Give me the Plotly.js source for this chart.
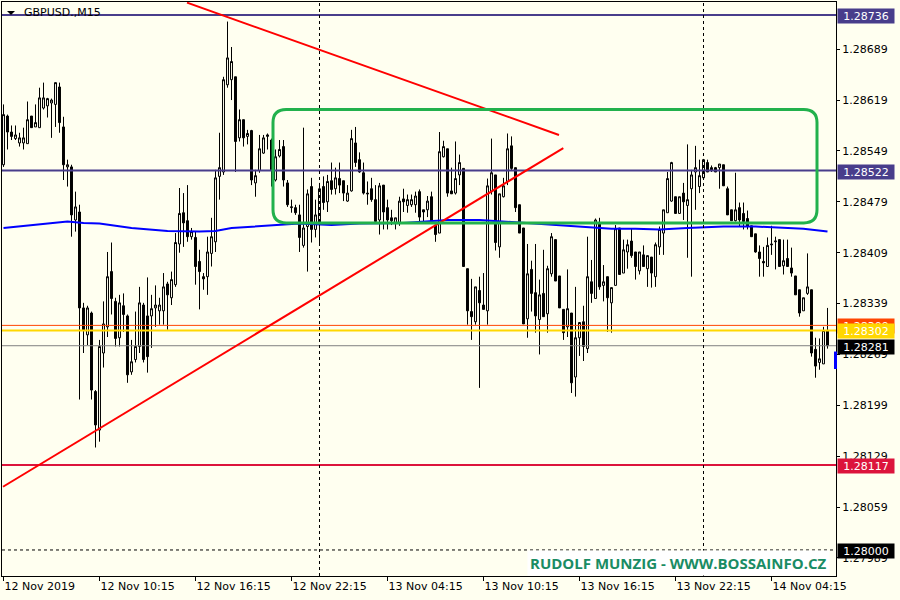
<!DOCTYPE html>
<html><head><meta charset="utf-8">
<script src="https://cdn.plot.ly/plotly-3.0.1.min.js"></script>
<style>html,body{margin:0;padding:0;background:#fffff0;} #chart{width:900px;height:600px;}</style>
</head><body><div id="chart"></div>
<script>
// ---- data: GBPUSD M15 candles (bar 0 = 12 Nov 2019 04:15) ----
const open = [1.28530,1.28597,1.28575,1.28566,1.28560,1.28560,1.28559,1.28597,1.28582,1.28581,
1.28608,1.28611,1.28615,1.28613,1.28637,1.28582,1.28527,1.28527,1.28454,1.28465,
1.28333,1.28296,1.28326,1.28218,1.28165,1.28271,1.28307,1.28383,1.28342,1.28292,
1.28336,1.28322,1.28245,1.28262,1.28280,1.28337,1.28322,1.28322,1.28333,1.28329,
1.28329,1.28366,1.28347,1.28365,1.28421,1.28464,1.28453,1.28431,1.28430,1.28397,
1.28376,1.28376,1.28408,1.28424,1.28514,1.28520,1.28640,1.28647,1.28651,1.28567,
1.28592,1.28569,1.28577,1.28505,1.28522,1.28546,1.28569,1.28564,1.28509,1.28542,
1.28555,1.28505,1.28471,1.28471,1.28461,1.28419,1.28445,1.28500,1.28441,1.28450,
1.28500,1.28479,1.28508,1.28497,1.28511,1.28508,1.28480,1.28494,1.28560,1.28537,
1.28519,1.28491,1.28497,1.28482,1.28454,1.28502,1.28471,1.28457,1.28450,1.28450,
1.28483,1.28474,1.28475,1.28475,1.28493,1.28468,1.28468,1.28486,1.28447,1.28436,
1.28541,1.28552,1.28494,1.28491,1.28516,1.28525,1.28387,1.28328,1.28314,1.28357,
1.28337,1.28329,1.28493,1.28516,1.28417,1.28486,1.28507,1.28556,1.28526,1.28475,
1.28443,1.28318,1.28386,1.28354,1.28317,1.28353,1.28325,1.28380,1.28427,1.28377,
1.28331,1.28307,1.28326,1.28238,1.28292,1.28314,1.28277,1.28369,1.28346,1.28450,
1.28364,1.28376,1.28340,1.28364,1.28443,1.28381,1.28410,1.28425,1.28410,1.28384,
1.28406,1.28387,1.28403,1.28376,1.28417,1.28436,1.28464,1.28480,1.28486,1.28463,
1.28491,1.28474,1.28497,1.28520,1.28500,1.28512,1.28533,1.28526,1.28526,1.28526,
1.28530,1.28497,1.28468,1.28453,1.28471,1.28463,1.28456,1.28446,1.28435,1.28410,
1.28397,1.28390,1.28421,1.28424,1.28427,1.28391,1.28401,1.28388,1.28377,1.28358,
1.28329,1.28353,1.28358,1.28276,1.28258,1.28256,1.28302];
const high = [1.28613,1.28599,1.28584,1.28584,1.28574,1.28581,1.28617,1.28597,1.28613,1.28636,
1.28643,1.28622,1.28621,1.28643,1.28643,1.28596,1.28537,1.28530,1.28493,1.28475,
1.28340,1.28336,1.28328,1.28220,1.28289,1.28342,1.28410,1.28423,1.28347,1.28351,
1.28353,1.28324,1.28289,1.28328,1.28362,1.28340,1.28375,1.28351,1.28364,1.28347,
1.28381,1.28369,1.28383,1.28436,1.28498,1.28491,1.28502,1.28443,1.28438,1.28413,
1.28381,1.28431,1.28457,1.28523,1.28574,1.28651,1.28727,1.28692,1.28651,1.28606,
1.28592,1.28578,1.28578,1.28523,1.28571,1.28571,1.28573,1.28566,1.28551,1.28564,
1.28564,1.28509,1.28482,1.28475,1.28475,1.28581,1.28496,1.28512,1.28482,1.28505,
1.28514,1.28516,1.28533,1.28526,1.28533,1.28508,1.28502,1.28578,1.28582,1.28547,
1.28533,1.28507,1.28512,1.28502,1.28505,1.28502,1.28482,1.28468,1.28457,1.28486,
1.28497,1.28489,1.28489,1.28493,1.28496,1.28468,1.28487,1.28493,1.28447,1.28575,
1.28563,1.28552,1.28526,1.28562,1.28544,1.28525,1.28387,1.28373,1.28362,1.28376,
1.28381,1.28511,1.28566,1.28516,1.28490,1.28512,1.28573,1.28569,1.28526,1.28475,
1.28443,1.28421,1.28398,1.28421,1.28372,1.28413,1.28391,1.28436,1.28427,1.28377,
1.28331,1.28386,1.28326,1.28362,1.28313,1.28336,1.28431,1.28399,1.28456,1.28457,
1.28392,1.28376,1.28361,1.28447,1.28443,1.28427,1.28427,1.28442,1.28410,1.28410,
1.28419,1.28405,1.28403,1.28423,1.28445,1.28468,1.28520,1.28534,1.28486,1.28486,
1.28505,1.28558,1.28523,1.28556,1.28537,1.28538,1.28537,1.28529,1.28527,1.28531,
1.28530,1.28500,1.28468,1.28519,1.28478,1.28478,1.28467,1.28446,1.28435,1.28419,
1.28417,1.28430,1.28446,1.28431,1.28427,1.28427,1.28427,1.28416,1.28377,1.28358,
1.28347,1.28408,1.28358,1.28292,1.28291,1.28307,1.28333];
const low = [1.28527,1.28551,1.28564,1.28564,1.28555,1.28551,1.28559,1.28581,1.28582,1.28581,
1.28606,1.28595,1.28567,1.28582,1.28574,1.28509,1.28500,1.28431,1.28438,1.28207,
1.28271,1.28282,1.28207,1.28141,1.28149,1.28251,1.28293,1.28324,1.28280,1.28280,
1.28300,1.28230,1.28241,1.28258,1.28271,1.28258,1.28244,1.28278,1.28307,1.28310,
1.28310,1.28303,1.28337,1.28362,1.28409,1.28417,1.28424,1.28427,1.28365,1.28331,
1.28358,1.28351,1.28390,1.28410,1.28482,1.28516,1.28636,1.28619,1.28520,1.28562,
1.28555,1.28558,1.28502,1.28486,1.28519,1.28545,1.28551,1.28500,1.28507,1.28540,
1.28500,1.28472,1.28464,1.28461,1.28410,1.28416,1.28383,1.28423,1.28430,1.28420,
1.28468,1.28465,1.28489,1.28489,1.28491,1.28480,1.28479,1.28493,1.28527,1.28519,
1.28489,1.28475,1.28479,1.28452,1.28434,1.28441,1.28441,1.28447,1.28441,1.28446,
1.28465,1.28464,1.28472,1.28464,1.28452,1.28452,1.28458,1.28452,1.28424,1.28436,
1.28540,1.28486,1.28490,1.28489,1.28502,1.28390,1.28310,1.28289,1.28310,1.28223,
1.28331,1.28310,1.28489,1.28412,1.28402,1.28485,1.28502,1.28523,1.28465,1.28436,
1.28311,1.28292,1.28328,1.28299,1.28269,1.28321,1.28299,1.28376,1.28370,1.28333,
1.28289,1.28293,1.28216,1.28211,1.28267,1.28260,1.28271,1.28340,1.28346,1.28358,
1.28342,1.28300,1.28299,1.28364,1.28379,1.28381,1.28387,1.28402,1.28372,1.28379,
1.28390,1.28362,1.28361,1.28362,1.28406,1.28406,1.28464,1.28479,1.28463,1.28463,
1.28454,1.28402,1.28376,1.28468,1.28491,1.28512,1.28520,1.28520,1.28520,1.28497,
1.28501,1.28461,1.28453,1.28452,1.28445,1.28441,1.28441,1.28431,1.28409,1.28376,
1.28376,1.28390,1.28406,1.28386,1.28390,1.28379,1.28390,1.28376,1.28351,1.28321,
1.28329,1.28351,1.28266,1.28237,1.28248,1.28256,1.28277];
const close = [1.28599,1.28575,1.28569,1.28571,1.28567,1.28567,1.28592,1.28581,1.28588,1.28622,
1.28622,1.28621,1.28619,1.28643,1.28588,1.28530,1.28530,1.28461,1.28472,1.28333,
1.28303,1.28333,1.28220,1.28172,1.28280,1.28311,1.28376,1.28346,1.28291,1.28340,
1.28324,1.28241,1.28259,1.28280,1.28340,1.28262,1.28266,1.28332,1.28337,1.28337,
1.28362,1.28351,1.28372,1.28423,1.28463,1.28450,1.28431,1.28438,1.28390,1.28383,
1.28373,1.28410,1.28431,1.28512,1.28526,1.28647,1.28677,1.28672,1.28562,1.28592,
1.28567,1.28573,1.28509,1.28515,1.28552,1.28567,1.28571,1.28523,1.28541,1.28551,
1.28509,1.28475,1.28472,1.28464,1.28430,1.28443,1.28490,1.28441,1.28461,1.28497,
1.28478,1.28507,1.28496,1.28512,1.28502,1.28491,1.28491,1.28566,1.28533,1.28520,
1.28491,1.28490,1.28482,1.28452,1.28501,1.28465,1.28454,1.28453,1.28457,1.28480,
1.28479,1.28482,1.28482,1.28487,1.28458,1.28465,1.28480,1.28452,1.28434,1.28548,
1.28555,1.28491,1.28490,1.28511,1.28533,1.28390,1.28329,1.28321,1.28362,1.28340,
1.28331,1.28501,1.28519,1.28423,1.28490,1.28501,1.28552,1.28525,1.28471,1.28436,
1.28311,1.28380,1.28353,1.28322,1.28351,1.28321,1.28387,1.28431,1.28370,1.28333,
1.28299,1.28332,1.28230,1.28292,1.28313,1.28280,1.28376,1.28353,1.28454,1.28362,
1.28369,1.28347,1.28361,1.28442,1.28379,1.28413,1.28420,1.28405,1.28390,1.28410,
1.28390,1.28405,1.28381,1.28420,1.28441,1.28468,1.28511,1.28533,1.28463,1.28486,
1.28479,1.28482,1.28516,1.28526,1.28515,1.28537,1.28520,1.28522,1.28520,1.28531,
1.28501,1.28461,1.28453,1.28468,1.28454,1.28452,1.28445,1.28431,1.28410,1.28401,
1.28395,1.28419,1.28420,1.28425,1.28390,1.28398,1.28390,1.28381,1.28351,1.28326,
1.28347,1.28362,1.28271,1.28253,1.28263,1.28302,1.28281];

// moving average (blue), sampled at bar indices
const maBar = [0,16,20,24,32,41,49,53,57,66,74,82,89,100,111,119,130,139,146,152,158,164,171,180,188,194,200,206];
const maVal = [1.28443,1.28452,1.28450,1.28449,1.28443,1.28439,1.28438,1.28439,1.28443,1.28446,1.28449,1.28447,1.28449,1.28450,1.28454,1.28454,1.28450,1.28447,1.28445,1.28442,1.28442,1.28441,1.28443,1.28445,1.28445,1.28443,1.28442,1.28438];

// x-axis labels
const xTickBars = [0,24,48,72,96,120,144,168,192];
const xTickText = ["12 Nov 2019","12 Nov 10:15","12 Nov 16:15","12 Nov 22:15","13 Nov 04:15","13 Nov 10:15","13 Nov 16:15","13 Nov 22:15","14 Nov 04:15"];
// y-axis labels
const yTicks = [1.27989,1.28059,1.28129,1.28199,1.28269,1.28339,1.28409,1.28479,1.28549,1.28619,1.28689];

// horizontal price levels
const levelPrice = [1.28736,1.28522,1.28309,1.28302,1.28281,1.28117,1.28000];
const levelColor = ["#483d8b","#483d8b","#ff4500","#ffd700","#808080","#dc143c","#000000"];
const levelWidth = [2,2,1,2,1,2,1];
const levelDash  = ["solid","solid","solid","solid","solid","solid","3px,3px"];
const levelLabelBg = ["#483d8b","#483d8b","#ff4500","#ffd700","#000000","#dc143c","#000000"];

// day separators (bar index of 00:00)
const daySepBars = [79,175];
// trend lines [bar, price]
const trendDown = {bars:[45.875,138.875], prices:[1.28753,1.28571]};
const trendUp   = {bars:[-0.125,139.95], prices:[1.28087,1.28553]};
// green consolidation box
const boxBars = [67.375,203.375];
const boxPrices = [1.28450,1.28606];
// blue price marker
const markerPrices = [1.28249,1.28273];

const bars = open.map((v,i)=>i);
const fmt = v => v.toFixed(5);

const traces = [
  {type:'candlestick', x:bars, open:open, high:high, low:low, close:close,
   increasing:{line:{color:'#000000',width:1}, fillcolor:'#fffff0'},
   decreasing:{line:{color:'#000000',width:1}, fillcolor:'#000000'},
   whiskerwidth:0, hoverinfo:'skip', showlegend:false},
  {type:'scatter', mode:'lines', x:maBar, y:maVal, line:{color:'#0000ff',width:2}, hoverinfo:'skip', showlegend:false}
];

const shapes = [];
levelPrice.forEach((p,k)=>{
  shapes.push({type:'line', xref:'paper', x0:0, x1:1, yref:'y', y0:p, y1:p,
    line:{color:levelColor[k], width:levelWidth[k], dash:levelDash[k]}});
});
daySepBars.forEach(b=>{
  shapes.push({type:'line', xref:'x', x0:b, x1:b, yref:'paper', y0:0, y1:1,
    line:{color:'#000000', width:1, dash:'3px,3px'}});
});
[trendDown, trendUp].forEach(t=>{
  shapes.push({type:'line', xref:'x', yref:'y', x0:t.bars[0], x1:t.bars[1], y0:t.prices[0], y1:t.prices[1],
    line:{color:'#ff0000', width:2}});
});
(function(){
  const x0=boxBars[0], x1=boxBars[1], y0=boxPrices[0], y1=boxPrices[1];
  const rx=3.3, ry=0.00018;
  const path = `M ${x0+rx},${y1} L ${x1-rx},${y1} Q ${x1},${y1} ${x1},${y1-ry} L ${x1},${y0+ry} Q ${x1},${y0} ${x1-rx},${y0} L ${x0+rx},${y0} Q ${x0},${y0} ${x0},${y0+ry} L ${x0},${y1-ry} Q ${x0},${y1} ${x0+rx},${y1} Z`;
  shapes.push({type:'path', xref:'x', yref:'y', path:path, line:{color:'#22b14c', width:3}, fillcolor:'rgba(0,0,0,0)'});
})();
shapes.push({type:'rect', xref:'paper', x0:0.9976, x1:1.0012, yref:'y', y0:markerPrices[0], y1:markerPrices[1],
  line:{width:0}, fillcolor:'#0000ff'});
shapes.push({type:'path', xref:'paper', yref:'paper', path:'M 0.006,0.9843 L 0.0156,0.9843 L 0.0108,0.9774 Z',
  line:{width:0}, fillcolor:'#000000'});

const annotations = [];
levelPrice.forEach((p,k)=>{
  annotations.push({xref:'paper', x:1, xanchor:'left', xshift:1, yref:'y', y:p, yanchor:'middle', yshift:-1,
    text:fmt(p), showarrow:false, bgcolor:levelLabelBg[k], borderpad:1, width:54, height:12, align:'center',
    font:{family:'DejaVu Sans', size:11, color:'#ffffff'}});
});
annotations.push({xref:'paper', yref:'paper', x:0.024, y:0.981, xanchor:'left', yanchor:'middle',
  text:'GBPUSD.,M15', showarrow:false, font:{family:'DejaVu Sans', size:11, color:'#000000'}});
annotations.push({xref:'paper', yref:'paper', x:0.9928, y:0.0235, xanchor:'right', yanchor:'middle',
  text:'<b>RUDOLF MUNZIG - WWW.BOSSAINFO.CZ</b>', showarrow:false, bgcolor:'#ffffff', borderpad:2,
  font:{family:'Open Sans', size:15, color:'#1a8c64'}});

const layout = {
  width:900, height:600,
  margin:{l:2, r:64, t:2, b:24, pad:0},
  paper_bgcolor:'#fffff0', plot_bgcolor:'#fffff0',
  showlegend:false, boxgap:0.3, hovermode:false,
  xaxis:{range:[-0.375,208.125], showgrid:false, zeroline:false, showline:true, mirror:true,
    linecolor:'#000000', linewidth:1, ticks:'outside', ticklen:4, tickcolor:'#000000',
    tickvals:xTickBars, ticktext:xTickText, ticklabelposition:'outside right',
    tickfont:{family:'DejaVu Sans', size:11, color:'#000000'}, rangeslider:{visible:false}, fixedrange:true},
  yaxis:{side:'right', range:[1.279642,1.287539], showgrid:false, zeroline:false, showline:true, mirror:true,
    linecolor:'#000000', linewidth:1, ticks:'outside', ticklen:3, tickcolor:'#000000',
    tickvals:yTicks, ticktext:yTicks.map(fmt),
    tickfont:{family:'DejaVu Sans', size:11, color:'#000000'}, fixedrange:true},
  shapes:shapes, annotations:annotations
};
Plotly.newPlot('chart', traces, layout, {staticPlot:true, displayModeBar:false});
</script></body></html>
